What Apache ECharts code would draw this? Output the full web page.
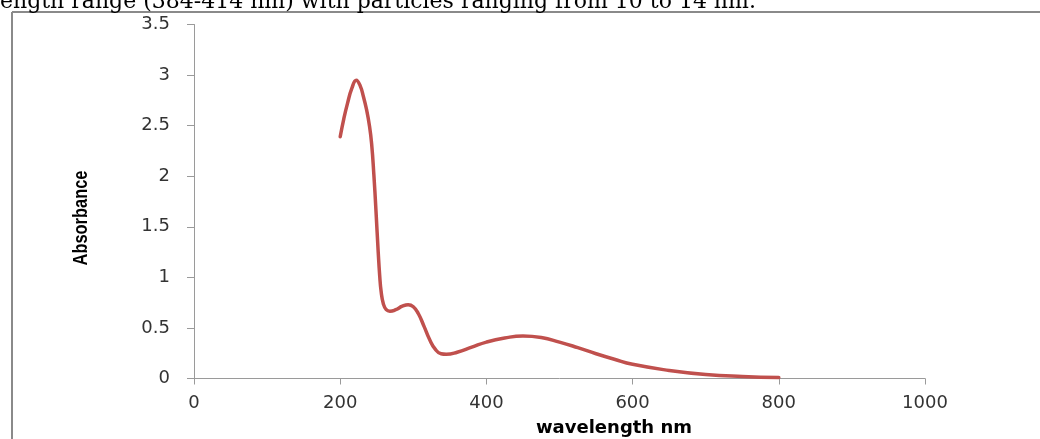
<!DOCTYPE html>
<html>
<head>
<meta charset="utf-8">
<script src="https://cdn.jsdelivr.net/npm/echarts@6/dist/echarts.min.js"></script>
<style>html,body{margin:0;padding:0;background:#fff;}#c{width:1040px;height:439px;}</style>
</head>
<body>
<div id="c"></div>
<script>
var wavelength = [200, 205, 210, 216, 222, 227, 232, 236, 240, 243, 246, 249, 252, 254, 256, 259, 263, 268, 276, 285, 293, 300, 307, 315, 322, 330, 338, 345, 360, 380, 400, 425, 450, 475, 500, 525, 550, 575, 600, 650, 700, 750, 800];
var absorbance = [2.39, 2.57, 2.72, 2.87, 2.95, 2.9, 2.78, 2.66, 2.5, 2.32, 2.02, 1.65, 1.25, 1.02, 0.86, 0.74, 0.68, 0.665, 0.68, 0.715, 0.73, 0.71, 0.64, 0.51, 0.39, 0.29, 0.245, 0.24, 0.26, 0.31, 0.36, 0.40, 0.42, 0.405, 0.36, 0.305, 0.245, 0.19, 0.14, 0.08, 0.04, 0.02, 0.01];
var yTicks = [0, 0.5, 1, 1.5, 2, 2.5, 3, 3.5];
var xTicks = [0, 200, 400, 600, 800, 1000];
var caption = 'ength range (384-414 nm) with particles ranging from 10 to 14 nm.';
var yTitle = 'Absorbance';
var xTitle = 'wavelength nm';

var chart = echarts.init(document.getElementById('c'));
var pts = wavelength.map(function (w, i) { return [w, absorbance[i]]; });
chart.setOption({
  animation: false,
  grid: { left: 194, right: 115, top: 24.5, bottom: 60.5 },
  xAxis: {
    type: 'value', min: xTicks[0], max: xTicks[xTicks.length - 1], interval: 200,
    splitLine: { show: false },
    axisLine: { lineStyle: { color: '#9a9a9a', width: 1 } },
    axisTick: { length: 6, lineStyle: { color: '#9a9a9a' } },
    axisLabel: { color: '#333', fontFamily: 'DejaVu Sans', fontSize: 18, margin: 16, formatter: function (v) { return String(v); } }
  },
  yAxis: {
    type: 'value', min: yTicks[0], max: yTicks[yTicks.length - 1], interval: 0.5,
    splitLine: { show: false },
    axisLine: { show: true, lineStyle: { color: '#9a9a9a', width: 1 } },
    axisTick: { show: true, length: 7, lineStyle: { color: '#9a9a9a' } },
    axisLabel: { color: '#333', fontFamily: 'DejaVu Sans', fontSize: 18, margin: 24, formatter: function (v) { return String(v); } }
  },
  series: [{
    type: 'line', data: pts, smooth: 0.5, showSymbol: false,
    lineStyle: { color: '#c0504d', width: 3.5, cap: 'round', join: 'round' }
  }],
  graphic: [
    { type: 'line', shape: { x1: 12, y1: 12, x2: 1040, y2: 12 }, style: { stroke: '#8a8a8a', lineWidth: 2 } },
    { type: 'line', shape: { x1: 12, y1: 12, x2: 12, y2: 439 }, style: { stroke: '#8a8a8a', lineWidth: 2 } },
    { type: 'text', left: 0, top: -9, style: { text: caption, font: '22px "DejaVu Serif"', fill: '#000' } },
    { type: 'text', x: 614, y: 428, style: { text: xTitle, font: 'bold 18px "DejaVu Sans"', fill: '#000', textAlign: 'center', textVerticalAlign: 'middle' } },
    { type: 'text', x: 81, y: 218, rotation: Math.PI / 2, scaleX: 0.82, style: { text: yTitle, font: 'bold 20px "Liberation Sans"', fill: '#000', textAlign: 'center', textVerticalAlign: 'middle' } }
  ]
});
</script>
</body>
</html>
